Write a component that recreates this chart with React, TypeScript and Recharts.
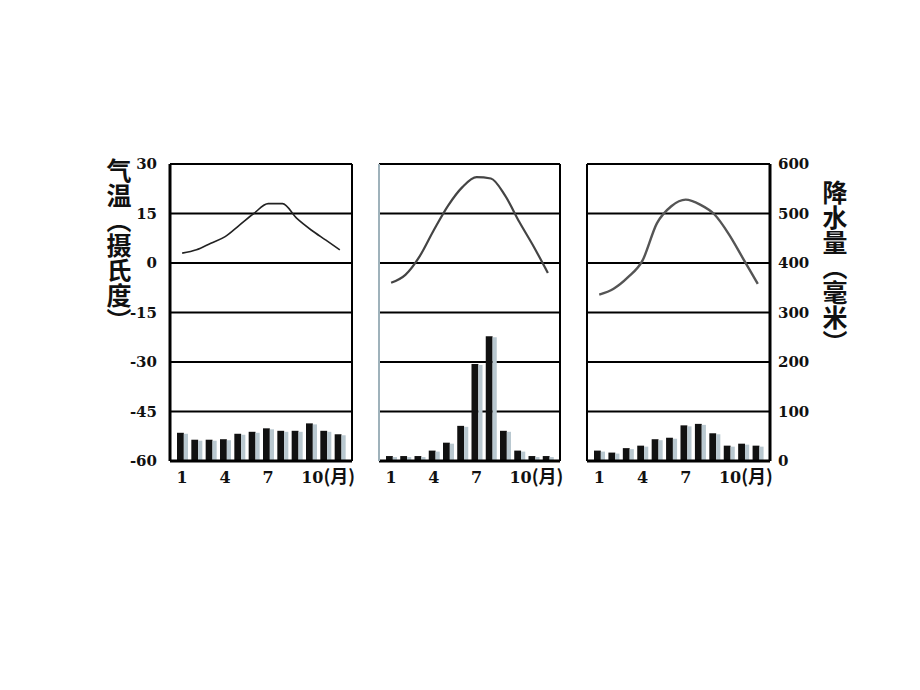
import {
  Bar,
  CartesianGrid,
  ComposedChart,
  Line,
  XAxis,
  YAxis,
} from "recharts";

const MONTHS = ["1", "2", "3", "4", "5", "6", "7", "8", "9", "10", "11", "12"];
const SHOWN_MONTHS = ["1", "4", "7", "10"];

const TEMP_TICKS = [-60, -45, -30, -15, 0, 15, 30];
const RAIN_TICKS = [0, 100, 200, 300, 400, 500, 600];

// left panel
const TEMP_A = [3, 4, 6, 8, 11.5, 15, 18, 18, 13.5, 10, 7, 4];
const RAIN_A = [57, 43, 43, 44, 55, 59, 66, 61, 61, 76, 61, 54];
// middle panel
const TEMP_B = [-6, -3.6, 2, 10, 17.4, 23, 26, 25.6, 20.4, 12.4, 5, -3];
const RAIN_B = [10, 10, 10, 21, 37, 71, 196, 252, 61, 21, 10, 10];
// right panel
const TEMP_C = [-9.6, -7.8, -4.3, 0.7, 12, 17.2, 19.2, 17.7, 14.7, 8.7, 1.2, -6.3];
const RAIN_C = [21, 17, 26, 31, 44, 47, 72, 75, 56, 31, 35, 31];

const NUM_FONT = "DejaVu Serif, serif";
const CJK_FONT = "Noto Sans CJK SC, sans-serif";

function toRows(temps: number[], rains: number[]) {
  return MONTHS.map((m, i) => ({ month: m, temp: temps[i], rain: rains[i] }));
}

function ShadedBar(props: any) {
  const { x, y, width, height } = props;
  if (!height || height <= 0) return <g />;
  const dark = width * 0.62;
  return (
    <g>
      <rect x={x} y={y} width={dark} height={height} fill="#111" />
      <rect x={x + dark} y={y + 1} width={width - dark} height={height - 1} fill="#b9c8d0" />
    </g>
  );
}

function NoTick() {
  return <g />;
}

function MonthTick(props: any) {
  const { x, y, payload } = props;
  const v = String(payload.value);
  if (!SHOWN_MONTHS.includes(v)) return <g />;
  const style = { fontFamily: NUM_FONT, fontWeight: 700, fontSize: 16, fill: "#111" };
  if (v === "10") {
    return (
      <text x={x - 10} y={y + 20} textAnchor="start" style={style}>
        10
        <tspan style={{ fontFamily: CJK_FONT, fontSize: 18 }}>(月)</tspan>
      </text>
    );
  }
  return (
    <text x={x} y={y + 20} textAnchor="middle" style={style}>
      {v}
    </text>
  );
}

interface PanelProps {
  left: number;
  width: number;
  marginLeft: number;
  marginRight: number;
  temps: number[];
  rains: number[];
  showTemp?: boolean;
  showRain?: boolean;
  leftBorder?: string;
  lineColor: string;
  lineWidth: number;
}

function Panel({
  left,
  width,
  marginLeft,
  marginRight,
  temps,
  rains,
  showTemp,
  showRain,
  leftBorder = "#000",
  lineColor,
  lineWidth,
}: PanelProps) {
  const data = toRows(temps, rains);
  const tickStyle = { fontFamily: NUM_FONT, fontWeight: 700, fontSize: 15, fill: "#111" };
  return (
    <div style={{ position: "absolute", left, top: 140 }}>
      <ComposedChart
        width={width}
        height={360}
        data={data}
        margin={{ top: 24, right: marginRight, bottom: 3, left: marginLeft }}
      >
        <CartesianGrid yAxisId="t" vertical={false} stroke="#000" strokeWidth={2} />
        <XAxis
          dataKey="month"
          interval={0}
          height={36}
          padding={{ left: 5, right: 5 }}
          axisLine={{ stroke: "#000", strokeWidth: 3 }}
          tickLine={false}
          tickSize={0}
          tick={<MonthTick />}
        />
        <YAxis
          yAxisId="t"
          orientation="left"
          type="number"
          domain={[-60, 30]}
          ticks={TEMP_TICKS}
          interval={0}
          width={showTemp ? 70 : 1}
          axisLine={{ stroke: leftBorder, strokeWidth: showTemp ? 3 : 2 }}
          tickLine={false}
          tickSize={0}
          tickMargin={13}
          tick={showTemp ? tickStyle : <NoTick />}
        />
        <YAxis
          yAxisId="r"
          orientation="right"
          type="number"
          domain={[0, 600]}
          ticks={RAIN_TICKS}
          interval={0}
          width={showRain ? 60 : 1}
          axisLine={{ stroke: "#000", strokeWidth: showRain ? 3 : 2 }}
          tickLine={false}
          tickSize={0}
          tickMargin={8}
          tick={showRain ? { ...tickStyle, textAnchor: "start" } : <NoTick />}
        />
        <Bar
          yAxisId="r"
          dataKey="rain"
          barSize={11}
          shape={<ShadedBar />}
          isAnimationActive={false}
        />
        <Line
          yAxisId="t"
          dataKey="temp"
          type="monotone"
          stroke={lineColor}
          strokeWidth={lineWidth}
          dot={false}
          isAnimationActive={false}
        />
      </ComposedChart>
    </div>
  );
}

export default function App() {
  return (
    <div
      style={{
        position: "fixed",
        left: 0,
        top: 0,
        width: 920,
        height: 690,
        background: "#fff",
        overflow: "hidden",
      }}
    >
      <div
        style={{
          position: "absolute",
          left: 106,
          top: 158,
          writingMode: "vertical-rl",
          fontFamily: CJK_FONT,
          fontSize: 25,
          fontWeight: 700,
          lineHeight: 1,
          color: "#111",
        }}
      >
        气温（摄氏度）
      </div>
      <div
        style={{
          position: "absolute",
          left: 822,
          top: 180,
          writingMode: "vertical-rl",
          fontFamily: CJK_FONT,
          fontSize: 25,
          fontWeight: 700,
          lineHeight: 1,
          color: "#111",
        }}
      >
        降水量（毫米）
      </div>
      <Panel
        left={100}
        width={271}
        marginLeft={0}
        marginRight={18}
        temps={TEMP_A}
        rains={RAIN_A}
        showTemp
        lineColor="#222"
        lineWidth={1.6}
      />
      <Panel
        left={368}
        width={211}
        marginLeft={10}
        marginRight={18}
        temps={TEMP_B}
        rains={RAIN_B}
        leftBorder="#9fb2bb"
        lineColor="#444"
        lineWidth={2.2}
      />
      <Panel
        left={576}
        width={254}
        marginLeft={10}
        marginRight={0}
        temps={TEMP_C}
        rains={RAIN_C}
        showRain
        lineColor="#555"
        lineWidth={2.4}
      />
    </div>
  );
}
